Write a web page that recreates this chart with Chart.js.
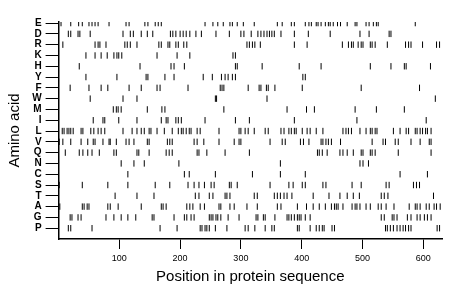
<!DOCTYPE html>
<html>
<head>
    <title>Amino acid positions</title>
    <script src="https://cdn.jsdelivr.net/npm/chart.js"></script>
    <style>body { margin: 0; background: #fff; }</style>
</head>
<body>
    <canvas id="aaChart" width="460" height="299"></canvas>

    <script>
        // amino acids from top row to bottom row
        var aminoAcids = ['E', 'D', 'R', 'K', 'H', 'Y', 'F', 'W', 'M', 'I', 'L', 'V', 'Q', 'N', 'C', 'S', 'T', 'A', 'G', 'P'];
        var xTicks = [100, 200, 300, 400, 500, 600];
        var seqLength = 631;

        // positions of each residue in the sequence
        var E = [4, 20, 33, 39, 50, 55, 60, 65, 83, 111, 116, 142, 147, 159, 164, 169, 241, 254, 262, 271, 282, 286, 294, 304, 322, 360, 368, 383, 388, 406, 412, 416, 424, 427, 432, 439, 444, 447, 452, 459, 464, 475, 488, 491, 506, 511, 518, 523, 526, 587];
        var D = [16, 20, 32, 35, 52, 106, 118, 123, 136, 146, 155, 184, 188, 193, 200, 205, 210, 216, 226, 235, 259, 281, 300, 305, 317, 328, 333, 338, 343, 347, 351, 355, 366, 388, 411, 447, 496, 511, 544, 547];
        var R = [7, 60, 65, 68, 78, 109, 113, 118, 129, 165, 169, 180, 183, 193, 197, 206, 211, 310, 314, 319, 323, 332, 388, 409, 467, 477, 482, 485, 493, 498, 501, 513, 516, 521, 541, 571, 576, 580, 599, 622, 627];
        var K = [45, 60, 70, 80, 91, 96, 99, 104, 162, 195, 216, 287, 291];
        var H = [34, 134, 185, 190, 207, 291, 294, 335, 396, 432, 513, 547, 569, 572, 612];
        var Y = [45, 96, 144, 147, 175, 190, 238, 253, 268, 274, 279, 286, 291, 402, 406];
        var F = [19, 50, 70, 81, 116, 136, 162, 167, 213, 266, 269, 272, 312, 330, 333, 342, 345, 356, 401, 498, 594];
        var W = [52, 106, 129, 258, 260, 343, 620];
        var M = [90, 95, 98, 103, 146, 170, 175, 272, 376, 408, 421, 488, 523, 569];
        var I = [57, 73, 76, 99, 129, 169, 177, 180, 193, 197, 202, 241, 291, 314, 388, 491, 605];
        var L = [6, 9, 14, 17, 20, 24, 37, 40, 53, 58, 65, 70, 76, 106, 121, 129, 136, 141, 149, 152, 162, 174, 187, 197, 202, 205, 210, 215, 218, 228, 233, 264, 297, 300, 307, 312, 322, 340, 345, 366, 371, 379, 383, 388, 391, 401, 409, 414, 424, 435, 468, 473, 477, 482, 496, 506, 513, 516, 521, 524, 551, 562, 572, 576, 587, 590, 595, 599, 604, 607, 613];
        var V = [1, 7, 20, 37, 48, 57, 60, 73, 83, 85, 95, 111, 116, 124, 146, 149, 179, 183, 187, 223, 228, 239, 264, 289, 297, 300, 348, 368, 373, 398, 403, 412, 432, 435, 440, 444, 449, 464, 516, 534, 538, 554, 559, 580, 595, 610, 613];
        var Q = [11, 34, 40, 48, 55, 67, 91, 95, 129, 132, 149, 177, 182, 187, 228, 231, 244, 274, 314, 426, 429, 434, 442, 463, 468, 475, 485, 498, 501, 513, 516, 521, 559, 613];
        var N = [103, 124, 141, 198, 365, 496, 501, 510];
        var C = [114, 207, 215, 258, 319, 365, 406, 562, 607];
        var S = [1, 39, 81, 114, 159, 183, 213, 223, 231, 240, 251, 256, 281, 284, 294, 348, 379, 386, 401, 406, 435, 440, 483, 498, 539, 544, 584, 589, 594];
        var T = [93, 129, 157, 225, 231, 248, 254, 274, 277, 282, 322, 327, 355, 360, 365, 371, 376, 384, 419, 445, 463, 475, 485, 495, 531, 536, 542, 617];
        var A = [2, 39, 42, 47, 50, 81, 85, 98, 136, 169, 172, 177, 211, 216, 221, 233, 240, 264, 267, 282, 289, 310, 327, 360, 366, 393, 408, 419, 429, 439, 449, 454, 457, 460, 468, 483, 488, 491, 496, 506, 513, 526, 531, 539, 552, 577, 587, 590, 595, 605, 610, 618, 622, 628];
        var G = [19, 22, 32, 37, 78, 91, 103, 114, 127, 154, 157, 190, 207, 211, 218, 223, 248, 251, 254, 259, 262, 267, 279, 297, 325, 328, 337, 340, 356, 376, 379, 383, 388, 393, 396, 399, 406, 414, 531, 536, 549, 552, 557, 574, 580, 590, 595, 602, 607, 613];
        var P = [16, 20, 55, 167, 195, 233, 236, 241, 244, 248, 258, 277, 307, 312, 323, 340, 351, 355, 393, 396, 414, 424, 429, 434, 437, 450, 454, 538, 541, 546, 551, 557, 562, 567, 571, 576, 580, 623, 627];

        var positions = [E, D, R, K, H, Y, F, W, M, I, L, V, Q, N, C, S, T, A, G, P];

        var datasets = positions.map(function (list, i) {
            return {
                label: aminoAcids[i],
                data: list.map(function (p) {
                    return { x: p, y: aminoAcids.length - 1 - i };
                }),
                pointStyle: 'line',
                rotation: 90,
                radius: 3.2,
                borderWidth: 1,
                borderColor: '#000',
                backgroundColor: '#000'
            };
        });

        var fontFamily = '"Liberation Sans", Arial, sans-serif';

        var ctx = document.getElementById('aaChart').getContext('2d');
        var chart = new Chart(ctx, {
            type: 'scatter',
            data: { datasets: datasets },
            options: {
                responsive: false,
                animation: false,
                layout: { padding: { top: 22, right: 18, bottom: 0, left: 0 } },
                plugins: {
                    legend: { display: false },
                    tooltip: { enabled: false }
                },
                scales: {
                    x: {
                        type: 'linear',
                        min: 0,
                        max: seqLength,
                        afterBuildTicks: function (scale) {
                            scale.ticks = xTicks.map(function (v) { return { value: v }; });
                        },
                        afterFit: function (scale) { scale.height = 60; },
                        border: { display: true, color: '#000', width: 1.5 },
                        grid: { drawOnChartArea: false, tickLength: 10, color: '#000', lineWidth: 1 },
                        ticks: {
                            color: '#000',
                            padding: 4,
                            maxRotation: 0,
                            font: { family: fontFamily, size: 9 }
                        },
                        title: {
                            display: true,
                            text: 'Position in protein sequence',
                            color: '#000',
                            padding: { top: 0, bottom: 13 },
                            font: { family: fontFamily, size: 15 }
                        }
                    },
                    y: {
                        type: 'linear',
                        min: -1,
                        max: 19.1,
                        afterBuildTicks: function (scale) {
                            scale.ticks = aminoAcids.map(function (a, i) { return { value: i }; });
                        },
                        afterFit: function (scale) { scale.width = 58.6; },
                        border: { display: true, color: '#000', width: 1.5 },
                        grid: { drawOnChartArea: false, tickLength: 13, color: '#000', lineWidth: 1 },
                        ticks: {
                            color: '#000',
                            padding: 4,
                            autoSkip: false,
                            font: { family: fontFamily, size: 10, weight: 'bold' },
                            callback: function (value) {
                                return aminoAcids[aminoAcids.length - 1 - value];
                            }
                        },
                        title: {
                            display: true,
                            text: 'Amino acid',
                            color: '#000',
                            padding: { top: 6, bottom: 0 },
                            font: { family: fontFamily, size: 15 }
                        }
                    }
                }
            }
        });
    </script>
</body>
</html>
